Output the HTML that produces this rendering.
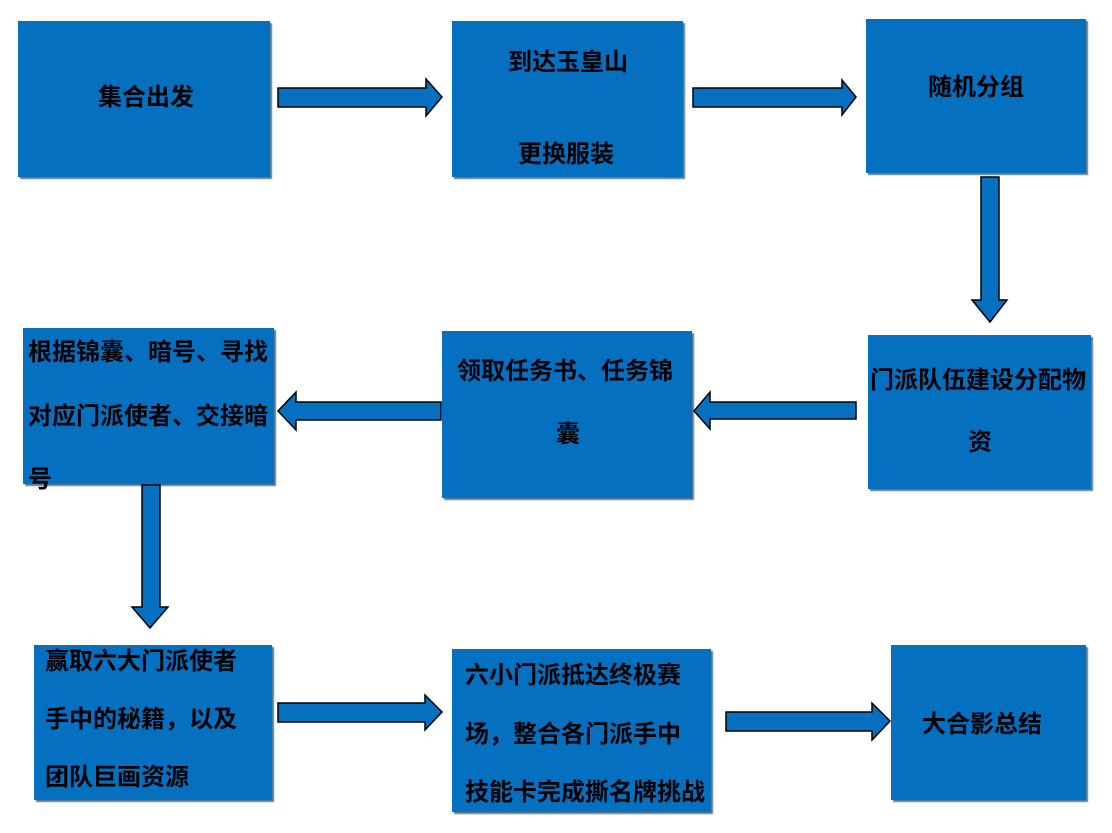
<!DOCTYPE html>
<html><head><meta charset="utf-8"><style>
body{margin:0;width:1112px;height:833px;background:#fff;position:relative;overflow:hidden;font-family:"Liberation Sans","Noto Sans CJK SC",sans-serif;}
.b{position:absolute;background:#0570c0;box-shadow:2px 2px 1px #5a7a90;}
.t{position:absolute;font-size:24px;line-height:24px;font-weight:bold;color:#000;white-space:nowrap;}
svg{position:absolute;left:0;top:0;}
</style></head><body>
<div class="b" style="left:18px;top:21px;width:252px;height:156px"></div>
<div class="b" style="left:452px;top:21px;width:231px;height:156px"></div>
<div class="b" style="left:866px;top:19px;width:220px;height:154px"></div>
<div class="b" style="left:868px;top:335px;width:223px;height:154px"></div>
<div class="b" style="left:442px;top:331px;width:250px;height:167px"></div>
<div class="b" style="left:23px;top:328px;width:251px;height:156px"></div>
<div class="b" style="left:34px;top:645px;width:238px;height:155px"></div>
<div class="b" style="left:452px;top:649px;width:259px;height:163px"></div>
<div class="b" style="left:891px;top:645px;width:195px;height:155px"></div>
<svg width="1112" height="833">
<g fill="#0570c0" stroke="#000" stroke-width="1.5">
<polygon points="278,88 426,88 426,79 442,97 426,116 426,107 278,107"/>
<polygon points="693,88 842,88 842,80 856,97 842,115 842,107 693,107"/>
<polygon points="981,177 999,177 999,300 1007,300 990,322 972,300 981,300"/>
<polygon points="856,402 710,402 710,392 694,411 710,429 710,419 856,419"/>
<polygon points="441,402 296,402 296,392 278,411 296,430 296,420 441,420"/>
<polygon points="142,485 160,485 160,607 168,607 150,628 132,607 142,607"/>
<polygon points="278,703 425,703 425,695 442,712 425,730 425,722 278,722"/>
<polygon points="726,712 872,712 872,703 890,721 872,740 872,731 726,731"/>
</g></svg>
<div class="t" style="left:98px;top:86px">集合出发</div>
<div class="t" style="left:508px;top:51px">到达玉皇山</div>
<div class="t" style="left:518px;top:143px">更换服装</div>
<div class="t" style="left:928px;top:76px">随机分组</div>
<div class="t" style="left:870px;top:369px">门派队伍建设分配物</div>
<div class="t" style="left:968px;top:431px">资</div>
<div class="t" style="left:457px;top:360px">领取任务书、任务锦</div>
<div class="t" style="left:556px;top:423px">囊</div>
<div class="t" style="left:28px;top:341px">根据锦囊、暗号、寻找</div>
<div class="t" style="left:28px;top:405px">对应门派使者、交接暗</div>
<div class="t" style="left:28px;top:468px">号</div>
<div class="t" style="left:45px;top:650px">赢取六大门派使者</div>
<div class="t" style="left:45px;top:708px">手中的秘籍，以及</div>
<div class="t" style="left:45px;top:766px">团队巨画资源</div>
<div class="t" style="left:465px;top:664px">六小门派抵达终极赛</div>
<div class="t" style="left:465px;top:723px">场，整合各门派手中</div>
<div class="t" style="left:465px;top:781px">技能卡完成撕名牌挑战</div>
<div class="t" style="left:922px;top:713px">大合影总结</div>
</body></html>
